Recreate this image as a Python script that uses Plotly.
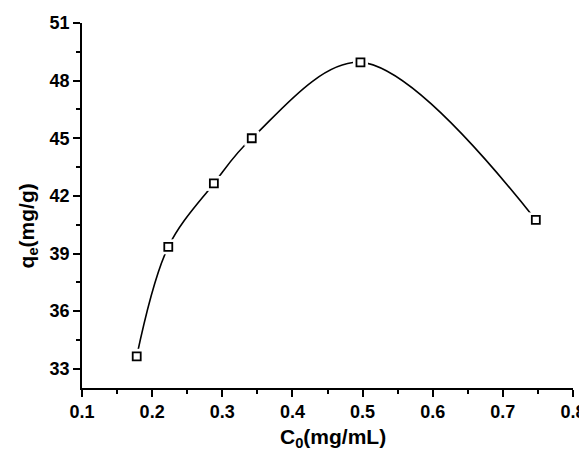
import plotly.graph_objects as go

c0 = [0.178, 0.223, 0.288, 0.342, 0.497, 0.747]
qe = [33.65, 39.35, 42.65, 45.0, 48.95, 40.75]

x_ticks = [0.1, 0.2, 0.3, 0.4, 0.5, 0.6, 0.7, 0.8]
y_ticks = [33, 36, 39, 42, 45, 48, 51]

fig = go.Figure()
fig.add_trace(go.Scatter(x=c0, y=qe, mode="lines",
                         line=dict(color="black", width=1.6, shape="spline", smoothing=1.0),
                         hoverinfo="skip", showlegend=False))
fig.add_trace(go.Scatter(x=c0, y=qe, mode="markers",
                         marker=dict(symbol="square", size=15, color="white", line=dict(width=0)),
                         hoverinfo="skip", showlegend=False))
fig.add_trace(go.Scatter(x=c0, y=qe, mode="markers",
                         marker=dict(symbol="square", size=8, color="white",
                                     line=dict(color="black", width=1.8)),
                         showlegend=False))

font_tick = dict(family="Liberation Sans", size=18, color="black", weight="bold")
title_font = dict(family="Liberation Sans", size=21, color="black", weight="bold")
fig.update_layout(
    width=579, height=444,
    margin=dict(l=74, r=14, t=15, b=64, autoexpand=False),
    paper_bgcolor="white", plot_bgcolor="white",
    font=dict(family="Liberation Sans", color="black"),
    xaxis=dict(range=[0.1, 0.8], tickvals=x_ticks, ticktext=[f"{v:.1f}" for v in x_ticks],
               automargin=False,
               ticks="outside", ticklen=7, tickwidth=1.5, tickcolor="black",
               minor=dict(dtick=0.05, tick0=0.1, ticks="outside", ticklen=4, tickwidth=1.5, tickcolor="black"),
               showline=True, linecolor="black", linewidth=1.6, showgrid=False, zeroline=False,
               tickfont=font_tick),
    yaxis=dict(range=[32, 51], tickvals=y_ticks, ticktext=[str(v) for v in y_ticks],
               automargin=False,
               ticks="outside", ticklen=7, tickwidth=1.5, tickcolor="black",
               minor=dict(dtick=1.5, tick0=33, ticks="outside", ticklen=4, tickwidth=1.5, tickcolor="black"),
               showline=True, linecolor="black", linewidth=1.6, showgrid=False, zeroline=False,
               tickfont=font_tick),
    annotations=[
        dict(text="C<sub>0</sub>(mg/mL)", xref="paper", yref="paper", x=0.511, y=-0.137,
             xanchor="center", yanchor="middle", showarrow=False, font=title_font),
        dict(text="q<sub>e</sub>(mg/g)", xref="paper", yref="paper", x=-0.111, y=0.444,
             xanchor="center", yanchor="middle", showarrow=False, textangle=-90, font=title_font),
    ],
)
fig.write_html("out.html")
